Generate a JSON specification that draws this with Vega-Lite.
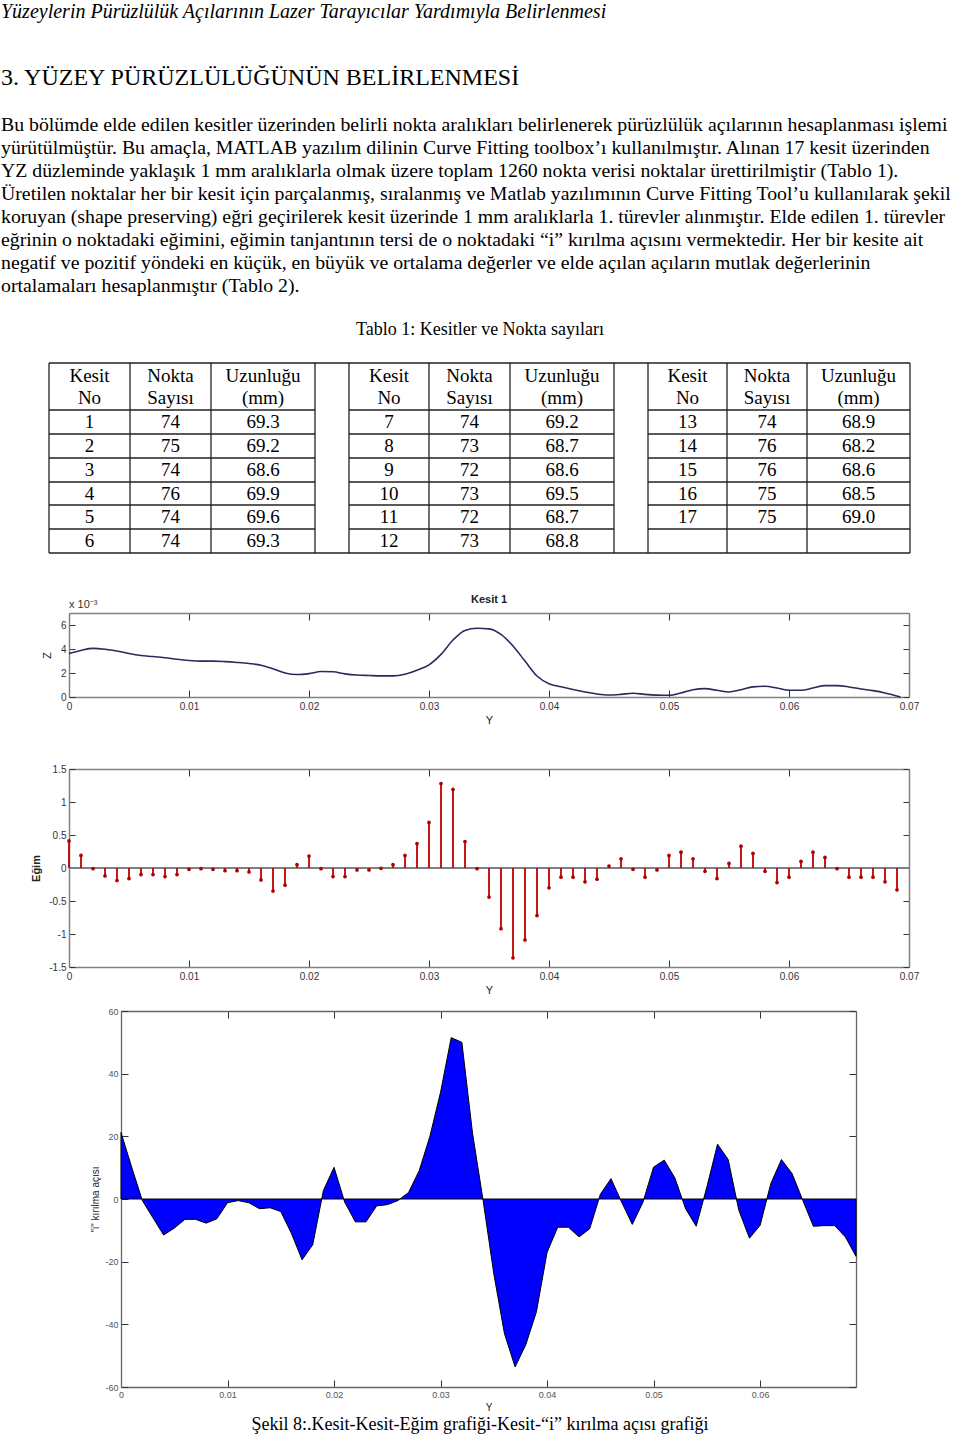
{
  "$schema": "https://vega.github.io/schema/vega-lite/v6.json",
  "padding": 0,
  "spacing": 0,
  "bounds": "flush",
  "background": "white",
  "config": {"view": {"stroke": null}, "font": "Liberation Serif"},
  "datasets": {
    "metin": [
      {"satir": 0, "tur": "ust", "metin": "Yüzeylerin Pürüzlülük Açılarının Lazer Tarayıcılar Yardımıyla Belirlenmesi"},
      {"satir": 1, "tur": "bolum", "metin": "3. YÜZEY PÜRÜZLÜLÜĞÜNÜN BELİRLENMESİ"},
      {"satir": 2, "tur": "paragraf", "metin": "Bu bölümde elde edilen kesitler üzerinden belirli nokta aralıkları belirlenerek pürüzlülük açılarının hesaplanması işlemi"},
      {"satir": 3, "tur": "paragraf", "metin": "yürütülmüştür. Bu amaçla, MATLAB yazılım dilinin Curve Fitting toolbox’ı kullanılmıştır. Alınan 17 kesit üzerinden"},
      {"satir": 4, "tur": "paragraf", "metin": "YZ düzleminde yaklaşık 1 mm aralıklarla olmak üzere toplam 1260 nokta verisi noktalar ürettirilmiştir (Tablo 1)."},
      {"satir": 5, "tur": "paragraf", "metin": "Üretilen noktalar her bir kesit için parçalanmış, sıralanmış ve Matlab yazılımının Curve Fitting Tool’u kullanılarak şekil"},
      {"satir": 6, "tur": "paragraf", "metin": "koruyan (shape preserving) eğri geçirilerek kesit üzerinde 1 mm aralıklarla 1. türevler alınmıştır. Elde edilen 1. türevler"},
      {"satir": 7, "tur": "paragraf", "metin": "eğrinin o noktadaki eğimini, eğimin tanjantının tersi de o noktadaki “i” kırılma açısını vermektedir. Her bir kesite ait"},
      {"satir": 8, "tur": "paragraf", "metin": "negatif ve pozitif yöndeki en küçük, en büyük ve ortalama değerler ve elde açılan açıların mutlak değerlerinin"},
      {"satir": 9, "tur": "paragraf", "metin": "ortalamaları hesaplanmıştır (Tablo 2)."}
    ],
    "tablo": [
      {"grup": 1, "sira": 1, "kesit": 1, "nokta": 74, "uzunluk": 69.3},
      {"grup": 1, "sira": 2, "kesit": 2, "nokta": 75, "uzunluk": 69.2},
      {"grup": 1, "sira": 3, "kesit": 3, "nokta": 74, "uzunluk": 68.6},
      {"grup": 1, "sira": 4, "kesit": 4, "nokta": 76, "uzunluk": 69.9},
      {"grup": 1, "sira": 5, "kesit": 5, "nokta": 74, "uzunluk": 69.6},
      {"grup": 1, "sira": 6, "kesit": 6, "nokta": 74, "uzunluk": 69.3},
      {"grup": 2, "sira": 1, "kesit": 7, "nokta": 74, "uzunluk": 69.2},
      {"grup": 2, "sira": 2, "kesit": 8, "nokta": 73, "uzunluk": 68.7},
      {"grup": 2, "sira": 3, "kesit": 9, "nokta": 72, "uzunluk": 68.6},
      {"grup": 2, "sira": 4, "kesit": 10, "nokta": 73, "uzunluk": 69.5},
      {"grup": 2, "sira": 5, "kesit": 11, "nokta": 72, "uzunluk": 68.7},
      {"grup": 2, "sira": 6, "kesit": 12, "nokta": 73, "uzunluk": 68.8},
      {"grup": 3, "sira": 1, "kesit": 13, "nokta": 74, "uzunluk": 68.9},
      {"grup": 3, "sira": 2, "kesit": 14, "nokta": 76, "uzunluk": 68.2},
      {"grup": 3, "sira": 3, "kesit": 15, "nokta": 76, "uzunluk": 68.6},
      {"grup": 3, "sira": 4, "kesit": 16, "nokta": 75, "uzunluk": 68.5},
      {"grup": 3, "sira": 5, "kesit": 17, "nokta": 75, "uzunluk": 69.0}
    ],
    "basliklar": [
      {"sutun": 0, "satir": 0, "baslik": "Kesit\nNo"},
      {"sutun": 1, "satir": 0, "baslik": "Nokta\nSayısı"},
      {"sutun": 2, "satir": 0, "baslik": "Uzunluğu\n(mm)"},
      {"sutun": 4, "satir": 0, "baslik": "Kesit\nNo"},
      {"sutun": 5, "satir": 0, "baslik": "Nokta\nSayısı"},
      {"sutun": 6, "satir": 0, "baslik": "Uzunluğu\n(mm)"},
      {"sutun": 8, "satir": 0, "baslik": "Kesit\nNo"},
      {"sutun": 9, "satir": 0, "baslik": "Nokta\nSayısı"},
      {"sutun": 10, "satir": 0, "baslik": "Uzunluğu\n(mm)"}
    ],
    "izgara": [
      {"c0": 0, "c1": 0, "r0": 0, "r1": 7}, {"c0": 1, "c1": 1, "r0": 0, "r1": 7},
      {"c0": 2, "c1": 2, "r0": 0, "r1": 7}, {"c0": 3, "c1": 3, "r0": 0, "r1": 7},
      {"c0": 4, "c1": 4, "r0": 0, "r1": 7}, {"c0": 5, "c1": 5, "r0": 0, "r1": 7},
      {"c0": 6, "c1": 6, "r0": 0, "r1": 7}, {"c0": 7, "c1": 7, "r0": 0, "r1": 7},
      {"c0": 8, "c1": 8, "r0": 0, "r1": 7}, {"c0": 9, "c1": 9, "r0": 0, "r1": 7},
      {"c0": 10, "c1": 10, "r0": 0, "r1": 7}, {"c0": 11, "c1": 11, "r0": 0, "r1": 7},
      {"c0": 0, "c1": 11, "r0": 0, "r1": 0}, {"c0": 0, "c1": 11, "r0": 7, "r1": 7},
      {"c0": 0, "c1": 3, "r0": 1, "r1": 1}, {"c0": 4, "c1": 7, "r0": 1, "r1": 1}, {"c0": 8, "c1": 11, "r0": 1, "r1": 1},
      {"c0": 0, "c1": 3, "r0": 2, "r1": 2}, {"c0": 4, "c1": 7, "r0": 2, "r1": 2}, {"c0": 8, "c1": 11, "r0": 2, "r1": 2},
      {"c0": 0, "c1": 3, "r0": 3, "r1": 3}, {"c0": 4, "c1": 7, "r0": 3, "r1": 3}, {"c0": 8, "c1": 11, "r0": 3, "r1": 3},
      {"c0": 0, "c1": 3, "r0": 4, "r1": 4}, {"c0": 4, "c1": 7, "r0": 4, "r1": 4}, {"c0": 8, "c1": 11, "r0": 4, "r1": 4},
      {"c0": 0, "c1": 3, "r0": 5, "r1": 5}, {"c0": 4, "c1": 7, "r0": 5, "r1": 5}, {"c0": 8, "c1": 11, "r0": 5, "r1": 5},
      {"c0": 0, "c1": 3, "r0": 6, "r1": 6}, {"c0": 4, "c1": 7, "r0": 6, "r1": 6}, {"c0": 8, "c1": 11, "r0": 6, "r1": 6}
    ],
    "profil": [
      {"Y": 0, "Z": 0.00363}, {"Y": 0.001, "Z": 0.00388}, {"Y": 0.002, "Z": 0.00405}, {"Y": 0.003, "Z": 0.00398},
      {"Y": 0.004, "Z": 0.00383}, {"Y": 0.005, "Z": 0.00362}, {"Y": 0.006, "Z": 0.00346}, {"Y": 0.007, "Z": 0.00337},
      {"Y": 0.008, "Z": 0.00327}, {"Y": 0.009, "Z": 0.00314}, {"Y": 0.01, "Z": 0.00304}, {"Y": 0.011, "Z": 0.00299},
      {"Y": 0.012, "Z": 0.00299}, {"Y": 0.013, "Z": 0.00295}, {"Y": 0.014, "Z": 0.00288}, {"Y": 0.015, "Z": 0.00279},
      {"Y": 0.016, "Z": 0.00265}, {"Y": 0.017, "Z": 0.00235}, {"Y": 0.018, "Z": 0.002}, {"Y": 0.019, "Z": 0.00187},
      {"Y": 0.02, "Z": 0.00195}, {"Y": 0.021, "Z": 0.00212}, {"Y": 0.022, "Z": 0.0021}, {"Y": 0.023, "Z": 0.00193},
      {"Y": 0.024, "Z": 0.00183}, {"Y": 0.025, "Z": 0.00179}, {"Y": 0.026, "Z": 0.00176}, {"Y": 0.027, "Z": 0.00176},
      {"Y": 0.028, "Z": 0.0019}, {"Y": 0.029, "Z": 0.00223}, {"Y": 0.03, "Z": 0.00268}, {"Y": 0.031, "Z": 0.00355},
      {"Y": 0.032, "Z": 0.00475}, {"Y": 0.033, "Z": 0.00555}, {"Y": 0.034, "Z": 0.00573}, {"Y": 0.035, "Z": 0.00568},
      {"Y": 0.036, "Z": 0.00522}, {"Y": 0.037, "Z": 0.00425}, {"Y": 0.038, "Z": 0.00299}, {"Y": 0.039, "Z": 0.00175},
      {"Y": 0.04, "Z": 0.0011}, {"Y": 0.041, "Z": 0.00085}, {"Y": 0.042, "Z": 0.00062}, {"Y": 0.043, "Z": 0.00042},
      {"Y": 0.044, "Z": 0.00025}, {"Y": 0.045, "Z": 0.00017}, {"Y": 0.046, "Z": 0.00022}, {"Y": 0.047, "Z": 0.00031},
      {"Y": 0.048, "Z": 0.00022}, {"Y": 0.049, "Z": 0.00016}, {"Y": 0.05, "Z": 0.00014}, {"Y": 0.051, "Z": 0.00034},
      {"Y": 0.052, "Z": 0.00061}, {"Y": 0.053, "Z": 0.0007}, {"Y": 0.054, "Z": 0.00056}, {"Y": 0.055, "Z": 0.00042},
      {"Y": 0.056, "Z": 0.00061}, {"Y": 0.057, "Z": 0.00084}, {"Y": 0.058, "Z": 0.00089}, {"Y": 0.059, "Z": 0.00075},
      {"Y": 0.06, "Z": 0.00056}, {"Y": 0.061, "Z": 0.00056}, {"Y": 0.062, "Z": 0.00075}, {"Y": 0.063, "Z": 0.00095},
      {"Y": 0.064, "Z": 0.00095}, {"Y": 0.065, "Z": 0.00084}, {"Y": 0.066, "Z": 0.00067}, {"Y": 0.067, "Z": 0.00053},
      {"Y": 0.068, "Z": 0.00034}, {"Y": 0.0693, "Z": 0}
    ],
    "turev": [
      {"Y": 0, "egim": 0.41, "aci": 21.2}, {"Y": 0.001, "egim": 0.19, "aci": 10.2}, {"Y": 0.002, "egim": -0.01, "aci": -0.5},
      {"Y": 0.003, "egim": -0.12, "aci": -6}, {"Y": 0.004, "egim": -0.19, "aci": -11.5}, {"Y": 0.005, "egim": -0.16, "aci": -9.3},
      {"Y": 0.006, "egim": -0.1, "aci": -6.5}, {"Y": 0.007, "egim": -0.1, "aci": -6.5}, {"Y": 0.008, "egim": -0.13, "aci": -7.7},
      {"Y": 0.009, "egim": -0.1, "aci": -6.3}, {"Y": 0.01, "egim": -0.02, "aci": -1.2}, {"Y": 0.011, "egim": -0.01, "aci": -0.5},
      {"Y": 0.012, "egim": -0.02, "aci": -1.2}, {"Y": 0.013, "egim": -0.04, "aci": -3.1}, {"Y": 0.014, "egim": -0.04, "aci": -2.8},
      {"Y": 0.015, "egim": -0.06, "aci": -4}, {"Y": 0.016, "egim": -0.18, "aci": -11}, {"Y": 0.017, "egim": -0.35, "aci": -19.4},
      {"Y": 0.018, "egim": -0.26, "aci": -14.6}, {"Y": 0.019, "egim": 0.05, "aci": 2.7}, {"Y": 0.02, "egim": 0.18, "aci": 10.1},
      {"Y": 0.021, "egim": -0.01, "aci": -1}, {"Y": 0.022, "egim": -0.13, "aci": -7.3}, {"Y": 0.023, "egim": -0.13, "aci": -7.3},
      {"Y": 0.024, "egim": -0.03, "aci": -2.2}, {"Y": 0.025, "egim": -0.03, "aci": -1.8}, {"Y": 0.026, "egim": -0.005, "aci": -0.5},
      {"Y": 0.027, "egim": 0.05, "aci": 2.1}, {"Y": 0.028, "egim": 0.19, "aci": 9.1}, {"Y": 0.029, "egim": 0.37, "aci": 20},
      {"Y": 0.03, "egim": 0.69, "aci": 34.1}, {"Y": 0.031, "egim": 1.28, "aci": 51.5}, {"Y": 0.032, "egim": 1.19, "aci": 50},
      {"Y": 0.033, "egim": 0.4, "aci": 21}, {"Y": 0.034, "egim": -0.01, "aci": -0.6}, {"Y": 0.035, "egim": -0.44, "aci": -23.9},
      {"Y": 0.036, "egim": -0.92, "aci": -43}, {"Y": 0.037, "egim": -1.36, "aci": -53.6}, {"Y": 0.038, "egim": -1.09, "aci": -46.5},
      {"Y": 0.039, "egim": -0.72, "aci": -36}, {"Y": 0.04, "egim": -0.3, "aci": -17}, {"Y": 0.041, "egim": -0.14, "aci": -9},
      {"Y": 0.042, "egim": -0.14, "aci": -9}, {"Y": 0.043, "egim": -0.21, "aci": -12.1}, {"Y": 0.044, "egim": -0.17, "aci": -9.5},
      {"Y": 0.045, "egim": 0.03, "aci": 1.5}, {"Y": 0.046, "egim": 0.14, "aci": 6.5}, {"Y": 0.047, "egim": -0.02, "aci": -1},
      {"Y": 0.048, "egim": -0.14, "aci": -8.1}, {"Y": 0.049, "egim": -0.03, "aci": -1}, {"Y": 0.05, "egim": 0.19, "aci": 10.2},
      {"Y": 0.051, "egim": 0.24, "aci": 12.4}, {"Y": 0.052, "egim": 0.14, "aci": 6.7}, {"Y": 0.053, "egim": -0.05, "aci": -3.1},
      {"Y": 0.054, "egim": -0.16, "aci": -8.7}, {"Y": 0.055, "egim": 0.07, "aci": 3.8}, {"Y": 0.056, "egim": 0.33, "aci": 17.5},
      {"Y": 0.057, "egim": 0.22, "aci": 12.6}, {"Y": 0.058, "egim": -0.05, "aci": -3.6}, {"Y": 0.059, "egim": -0.22, "aci": -12.5},
      {"Y": 0.06, "egim": -0.14, "aci": -8.4}, {"Y": 0.061, "egim": 0.1, "aci": 4.9}, {"Y": 0.062, "egim": 0.24, "aci": 12.6},
      {"Y": 0.063, "egim": 0.16, "aci": 8.1}, {"Y": 0.064, "egim": -0.01, "aci": -0.4}, {"Y": 0.065, "egim": -0.14, "aci": -8.7},
      {"Y": 0.066, "egim": -0.14, "aci": -8.5}, {"Y": 0.067, "egim": -0.14, "aci": -8.5}, {"Y": 0.068, "egim": -0.21, "aci": -12.1},
      {"Y": 0.069, "egim": -0.33, "aci": -18.3}
    ],
    "notlar": [
      {"Y": 0.035, "deger": 0.00808, "etiket": "Kesit 1"},
      {"Y": 0, "deger": 0.00767, "etiket": "x 10⁻³"}
    ],
    "tablobaslik": [{"baslik": "Tablo 1: Kesitler ve Nokta sayıları"}],
    "sekilbaslik": [{"baslik": "Şekil 8:.Kesit-Kesit-Eğim grafiği-Kesit-“i” kırılma açısı grafiği"}]
  },
  "vconcat": [
    {
      "width": 960,
      "height": 310,
      "data": {"name": "metin"},
      "encoding": {
        "x": {"datum": 0, "type": "quantitative", "scale": {"domain": [0, 1], "range": [1, 961]}, "axis": null},
        "y": {"field": "satir", "type": "quantitative", "scale": {"domain": [0, 1, 2, 9], "range": [12, 78, 125, 286]}, "axis": null},
        "text": {"field": "metin"}
      },
      "layer": [
        {"transform": [{"filter": "datum.tur === 'ust'"}], "mark": {"type": "text", "align": "left", "baseline": "middle", "font": "Liberation Serif", "fontStyle": "italic", "fontSize": 20, "color": "#000"}},
        {"transform": [{"filter": "datum.tur === 'bolum'"}], "mark": {"type": "text", "align": "left", "baseline": "middle", "font": "Liberation Serif", "fontSize": 24, "color": "#000"}},
        {"transform": [{"filter": "datum.tur === 'paragraf'"}], "mark": {"type": "text", "align": "left", "baseline": "middle", "font": "Liberation Serif", "fontSize": 19.8, "color": "#000"}}
      ]
    },
    {
      "width": 960,
      "height": 40,
      "data": {"name": "tablobaslik"},
      "mark": {"type": "text", "align": "center", "baseline": "middle", "font": "Liberation Serif", "fontSize": 18, "color": "#000"},
      "encoding": {"text": {"field": "baslik"}}
    },
    {
      "width": 960,
      "height": 220,
      "layer": [
        {
          "data": {"name": "izgara"},
          "mark": {"type": "rule", "color": "#222", "strokeWidth": 1.3},
          "encoding": {
            "x": {"field": "c0", "type": "quantitative", "scale": {"domain": [0, 1, 2, 3, 4, 5, 6, 7, 8, 9, 10, 11], "range": [49, 130, 211, 315, 349, 429, 510, 614, 648, 727, 807, 910]}, "axis": null},
            "x2": {"field": "c1"},
            "y": {"field": "r0", "type": "quantitative", "scale": {"domain": [0, 1, 2, 3, 4, 5, 6, 7], "range": [13, 60, 84, 108, 132, 155, 179, 203]}, "axis": null},
            "y2": {"field": "r1"}
          }
        },
        {
          "data": {"name": "basliklar"},
          "mark": {"type": "text", "align": "center", "baseline": "middle", "font": "Liberation Serif", "fontSize": 19, "lineBreak": "\n", "lineHeight": 22, "dy": -11, "color": "#000"},
          "encoding": {
            "x": {"field": "sutun", "type": "quantitative", "scale": {"domain": [0, 1, 2, 3, 4, 5, 6, 7, 8, 9, 10], "range": [89.5, 170.5, 263, 332, 389, 469.5, 562, 631, 687.5, 767, 858.5]}, "axis": null},
            "y": {"field": "satir", "type": "quantitative", "scale": {"domain": [0, 1, 2, 3, 4, 5, 6], "range": [36.5, 72, 96, 120, 143.5, 167, 191]}, "axis": null},
            "text": {"field": "baslik"}
          }
        },
        {
          "data": {"name": "tablo"},
          "mark": {"type": "text", "align": "center", "baseline": "middle", "font": "Liberation Serif", "fontSize": 19, "color": "#000"},
          "encoding": {
            "x": {"field": "grup", "type": "quantitative", "scale": {"domain": [1, 2, 3], "range": [89.5, 389, 687.5]}, "axis": null},
            "y": {"field": "sira", "type": "quantitative", "scale": {"domain": [0, 1, 2, 3, 4, 5, 6], "range": [36.5, 72, 96, 120, 143.5, 167, 191]}, "axis": null},
            "text": {"field": "kesit", "type": "quantitative", "format": "d"}
          }
        },
        {
          "data": {"name": "tablo"},
          "mark": {"type": "text", "align": "center", "baseline": "middle", "font": "Liberation Serif", "fontSize": 19, "color": "#000"},
          "encoding": {
            "x": {"field": "grup", "type": "quantitative", "scale": {"domain": [1, 2, 3], "range": [170.5, 469.5, 767]}, "axis": null},
            "y": {"field": "sira", "type": "quantitative", "scale": {"domain": [0, 1, 2, 3, 4, 5, 6], "range": [36.5, 72, 96, 120, 143.5, 167, 191]}, "axis": null},
            "text": {"field": "nokta", "type": "quantitative", "format": "d"}
          }
        },
        {
          "data": {"name": "tablo"},
          "mark": {"type": "text", "align": "center", "baseline": "middle", "font": "Liberation Serif", "fontSize": 19, "color": "#000"},
          "encoding": {
            "x": {"field": "grup", "type": "quantitative", "scale": {"domain": [1, 2, 3], "range": [263, 562, 858.5]}, "axis": null},
            "y": {"field": "sira", "type": "quantitative", "scale": {"domain": [0, 1, 2, 3, 4, 5, 6], "range": [36.5, 72, 96, 120, 143.5, 167, 191]}, "axis": null},
            "text": {"field": "uzunluk", "type": "quantitative", "format": ".1f"}
          }
        }
      ],
      "resolve": {"scale": {"x": "independent", "y": "independent"}}
    },
    {
      "width": 960,
      "height": 175,
      "layer": [
        {
          "data": {"name": "profil"},
          "mark": {"type": "line", "color": "#2a2a5c", "strokeWidth": 1.6, "interpolate": "monotone"},
          "encoding": {
            "x": {"field": "Y", "type": "quantitative", "scale": {"domain": [0, 0.07], "range": [69, 909], "nice": false, "zero": false},
              "axis": {"orient": "bottom", "offset": -48, "values": [0, 0.01, 0.02, 0.03, 0.04, 0.05, 0.06, 0.07], "labelExpr": "'' + datum.value", "labelFlush": false, "labelOverlap": false, "grid": false, "tickSize": -7, "tickColor": "#333", "domainColor": "#808080", "domainWidth": 1.5, "labelPadding": 11, "labelFont": "Liberation Sans", "labelFontSize": 10, "labelColor": "#333", "title": "Y", "titleFont": "Liberation Sans", "titleFontSize": 11, "titleFontWeight": "normal", "titleColor": "#222", "titlePadding": 3}},
            "y": {"field": "Z", "type": "quantitative", "scale": {"domain": [0, 0.007], "range": [127, 43], "nice": false, "zero": false},
              "axis": {"orient": "left", "offset": -69, "values": [0, 0.002, 0.004, 0.006], "labelExpr": "format(datum.value * 1000, '.0f')", "labelFlush": false, "labelOverlap": false, "grid": false, "tickSize": -6, "tickColor": "#333", "domainColor": "#808080", "domainWidth": 1.5, "labelPadding": 9, "labelFont": "Liberation Sans", "labelFontSize": 10, "labelColor": "#333", "title": "Z", "titleFont": "Liberation Sans", "titleFontSize": 11, "titleFontWeight": "normal", "titleColor": "#222", "titlePadding": 8}}
          }
        },
        {
          "data": {"name": "profil"},
          "mark": {"type": "line", "opacity": 0},
          "encoding": {
            "x": {"field": "Y", "type": "quantitative",
              "axis": {"orient": "top", "offset": -43, "values": [0, 0.01, 0.02, 0.03, 0.04, 0.05, 0.06, 0.07], "labels": false, "grid": false, "tickSize": -7, "tickColor": "#333", "domainColor": "#808080", "domainWidth": 1.5, "title": null}},
            "y": {"field": "Z", "type": "quantitative",
              "axis": {"orient": "right", "offset": -51, "values": [0, 0.002, 0.004, 0.006], "labels": false, "grid": false, "tickSize": -6, "tickColor": "#333", "domainColor": "#808080", "domainWidth": 1.5, "title": null}}
          }
        },
        {
          "data": {"name": "notlar"},
          "transform": [{"filter": "datum.etiket === 'Kesit 1'"}],
          "mark": {"type": "text", "align": "center", "baseline": "middle", "font": "Liberation Sans", "fontSize": 11, "fontWeight": "bold", "color": "#222"},
          "encoding": {
            "x": {"field": "Y", "type": "quantitative", "axis": null},
            "y": {"field": "deger", "type": "quantitative", "axis": null},
            "text": {"field": "etiket"}
          }
        },
        {
          "data": {"name": "notlar"},
          "transform": [{"filter": "datum.etiket !== 'Kesit 1'"}],
          "mark": {"type": "text", "align": "left", "baseline": "middle", "font": "Liberation Sans", "fontSize": 11, "color": "#333"},
          "encoding": {
            "x": {"field": "Y", "type": "quantitative", "axis": null},
            "y": {"field": "deger", "type": "quantitative", "axis": null},
            "text": {"field": "etiket"}
          }
        }
      ],
      "resolve": {"axis": {"x": "independent", "y": "independent"}}
    },
    {
      "width": 960,
      "height": 255,
      "data": {"name": "turev"},
      "layer": [
        {
          "mark": {"type": "rule", "color": "#808080", "strokeWidth": 1},
          "encoding": {
            "x": {"datum": 0, "type": "quantitative", "axis": null},
            "x2": {"datum": 0.07},
            "y": {"datum": 0, "type": "quantitative", "axis": null}
          }
        },
        {
          "mark": {"type": "rule", "color": "#c00000", "strokeWidth": 1.8},
          "encoding": {
            "x": {"field": "Y", "type": "quantitative", "scale": {"domain": [0, 0.07], "range": [69, 909], "nice": false, "zero": false},
              "axis": {"orient": "bottom", "offset": -33, "values": [0, 0.01, 0.02, 0.03, 0.04, 0.05, 0.06, 0.07], "labelExpr": "'' + datum.value", "labelFlush": false, "labelOverlap": false, "grid": false, "tickSize": -7, "tickColor": "#333", "domainColor": "#808080", "domainWidth": 1.5, "labelPadding": 11, "labelFont": "Liberation Sans", "labelFontSize": 10, "labelColor": "#333", "title": "Y", "titleFont": "Liberation Sans", "titleFontSize": 11, "titleFontWeight": "normal", "titleColor": "#222", "titlePadding": 3}},
            "y": {"field": "egim", "type": "quantitative", "scale": {"domain": [-1.5, 1.5], "range": [222, 24], "nice": false, "zero": false},
              "axis": {"orient": "left", "offset": -69, "values": [-1.5, -1, -0.5, 0, 0.5, 1, 1.5], "labelExpr": "'' + datum.value", "labelFlush": false, "labelOverlap": false, "grid": false, "tickSize": -6, "tickColor": "#333", "domainColor": "#808080", "domainWidth": 1.5, "labelPadding": 9, "labelFont": "Liberation Sans", "labelFontSize": 10, "labelColor": "#333", "title": "Eğim", "titleFont": "Liberation Sans", "titleFontSize": 11, "titleFontWeight": "bold", "titleColor": "#222", "titlePadding": 7}},
            "y2": {"datum": 0}
          }
        },
        {
          "mark": {"type": "point", "filled": true, "size": 14, "color": "#b00000", "opacity": 1},
          "encoding": {
            "x": {"field": "Y", "type": "quantitative",
              "axis": {"orient": "top", "offset": -24, "values": [0, 0.01, 0.02, 0.03, 0.04, 0.05, 0.06, 0.07], "labels": false, "grid": false, "tickSize": -7, "tickColor": "#333", "domainColor": "#808080", "domainWidth": 1.5, "title": null}},
            "y": {"field": "egim", "type": "quantitative",
              "axis": {"orient": "right", "offset": -51, "values": [-1.5, -1, -0.5, 0, 0.5, 1, 1.5], "labels": false, "grid": false, "tickSize": -6, "tickColor": "#333", "domainColor": "#808080", "domainWidth": 1.5, "title": null}}
          }
        }
      ],
      "resolve": {"axis": {"x": "independent", "y": "independent"}}
    },
    {
      "width": 960,
      "height": 414,
      "data": {"name": "turev"},
      "layer": [
        {
          "mark": {"type": "area", "color": "#0000ff", "stroke": "#000", "strokeWidth": 1, "opacity": 1, "fillOpacity": 1},
          "encoding": {
            "x": {"field": "Y", "type": "quantitative", "scale": {"domain": [0, 0.069], "range": [121, 856], "nice": false, "zero": false},
              "axis": {"orient": "bottom", "offset": -27, "values": [0, 0.01, 0.02, 0.03, 0.04, 0.05, 0.06], "labelExpr": "'' + datum.value", "labelFlush": false, "labelOverlap": false, "grid": false, "tickSize": -7, "tickColor": "#333", "domainColor": "#666", "domainWidth": 1.3, "labelPadding": 10, "labelFont": "Liberation Sans", "labelFontSize": 9, "labelColor": "#555", "title": "Y", "titleFont": "Liberation Sans", "titleFontSize": 10, "titleFontWeight": "normal", "titleColor": "#222", "titlePadding": 3}},
            "y": {"field": "aci", "type": "quantitative", "scale": {"domain": [-60, 60], "range": [387, 11], "nice": false, "zero": false},
              "axis": {"orient": "left", "offset": -121, "values": [-60, -40, -20, 0, 20, 40, 60], "labelExpr": "'' + datum.value", "labelFlush": false, "labelOverlap": false, "grid": false, "tickSize": -7, "tickColor": "#333", "domainColor": "#666", "domainWidth": 1.3, "labelPadding": 10, "labelFont": "Liberation Sans", "labelFontSize": 9, "labelColor": "#555", "title": "\"i\" kırılma açısı", "titleFont": "Liberation Sans", "titleFontSize": 10, "titleFontWeight": "normal", "titleColor": "#222", "titlePadding": 4}},
            "y2": {"datum": 0}
          }
        },
        {
          "mark": {"type": "line", "opacity": 0},
          "encoding": {
            "x": {"field": "Y", "type": "quantitative",
              "axis": {"orient": "top", "offset": -11, "values": [0, 0.01, 0.02, 0.03, 0.04, 0.05, 0.06], "labels": false, "grid": false, "tickSize": -7, "tickColor": "#333", "domainColor": "#666", "domainWidth": 1.3, "title": null}},
            "y": {"field": "aci", "type": "quantitative",
              "axis": {"orient": "right", "offset": -104, "values": [-60, -40, -20, 0, 20, 40, 60], "labels": false, "grid": false, "tickSize": -7, "tickColor": "#333", "domainColor": "#666", "domainWidth": 1.3, "title": null}}
          }
        }
      ],
      "resolve": {"axis": {"x": "independent", "y": "independent"}}
    },
    {
      "width": 960,
      "height": 22,
      "data": {"name": "sekilbaslik"},
      "mark": {"type": "text", "align": "center", "baseline": "middle", "font": "Liberation Serif", "fontSize": 18, "color": "#000"},
      "encoding": {"text": {"field": "baslik"}}
    }
  ]
}
